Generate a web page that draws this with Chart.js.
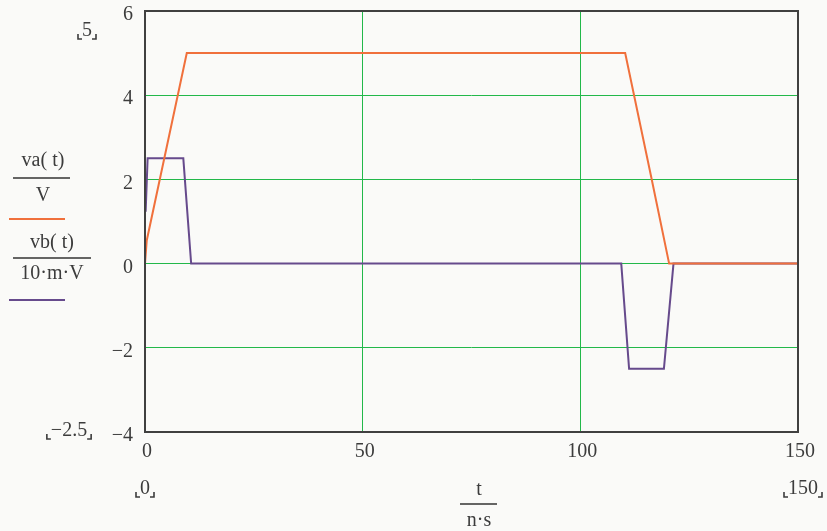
<!DOCTYPE html>
<html lang="en">
<head>
<meta charset="UTF-8">
<title>va(t), vb(t)</title>
<script src="https://cdn.jsdelivr.net/npm/chart.js"></script>
<style>
  html, body { margin: 0; padding: 0; background: #fafaf8; }
  #wrap { width: 827px; height: 531px; }
</style>
</head>
<body>
<div id="wrap"><canvas id="myChart" width="827" height="531"></canvas></div>
<script>
  // va(t)/V  (orange)
  const tA = [0, 0.4, 3.6, 9.6, 110.3, 116.2, 120.4, 150];
  const va = [0, 0.55, 2.1, 5, 5, 2.1, 0, 0];
  // vb(t)/(10 mV)  (purple)
  const tB = [0.15, 0.6, 8.8, 10.6, 109.4, 111.2, 119.2, 121.4, 150];
  const vb = [1.23, 2.5, 2.5, 0, 0, -2.5, -2.5, 0, 0];

  const xTicks = [0, 50, 100, 150];
  const yTicks = [-4, -2, 0, 2, 4, 6];

  const serif = '"Liberation Serif", "Times New Roman", serif';
  const textColor = "#3c3c3c";
  const orange = "#f0703c";
  const purple = "#664a8c";
  const green = "#22b84a";
  const fs = 20;

  function pts(xs, ys) {
    return xs.map((x, i) => ({ x: x, y: ys[i] }));
  }

  // brackets like ⌞ ⌟ round the limit labels
  function bracketLabel(ctx, text, cx, cy) {
    ctx.font = fs + "px " + serif;
    ctx.textAlign = "center";
    ctx.textBaseline = "middle";
    ctx.fillStyle = textColor;
    ctx.fillText(text, cx, cy);
    const w = ctx.measureText(text).width;
    const l = cx - w / 2 - 4, r = cx + w / 2 + 4, b = cy + 8;
    ctx.strokeStyle = textColor;
    ctx.lineWidth = 1.6;
    ctx.beginPath();
    ctx.moveTo(l, b - 5); ctx.lineTo(l, b); ctx.lineTo(l + 4, b);
    ctx.moveTo(r, b - 5); ctx.lineTo(r, b); ctx.lineTo(r - 4, b);
    ctx.stroke();
  }

  function fraction(ctx, top, bottom, cx, yTop, yBar, yBottom, x1, x2) {
    ctx.font = fs + "px " + serif;
    ctx.textAlign = "center";
    ctx.textBaseline = "middle";
    ctx.fillStyle = textColor;
    ctx.fillText(top, cx, yTop);
    ctx.fillText(bottom, cx, yBottom);
    ctx.strokeStyle = "#333";
    ctx.lineWidth = 1.5;
    ctx.beginPath();
    ctx.moveTo(x1, yBar); ctx.lineTo(x2, yBar);
    ctx.stroke();
  }

  const decor = {
    id: "decor",
    afterDraw(chart) {
      const ctx = chart.ctx;
      const a = chart.chartArea;
      ctx.save();
      // frame
      ctx.strokeStyle = "#404040";
      ctx.lineWidth = 2;
      ctx.strokeRect(a.left, a.top, a.right - a.left, a.bottom - a.top);

      // y axis titles
      fraction(ctx, "va( t)", "V", 43, 161, 178, 196, 13, 70);
      ctx.strokeStyle = orange; ctx.lineWidth = 2;
      ctx.beginPath(); ctx.moveTo(9, 219); ctx.lineTo(65, 219); ctx.stroke();
      fraction(ctx, "vb( t)", "10\u00b7m\u00b7V", 52, 243, 258, 274, 13, 91);
      ctx.strokeStyle = purple; ctx.lineWidth = 2;
      ctx.beginPath(); ctx.moveTo(9, 300); ctx.lineTo(65, 300); ctx.stroke();

      // x axis title
      fraction(ctx, "t", "n\u00b7s", 479, 490, 504, 521, 460, 497);

      // limit labels
      bracketLabel(ctx, "5", 87, 31);
      bracketLabel(ctx, "\u22122.5", 69, 431);
      bracketLabel(ctx, "0", 145, 489);
      bracketLabel(ctx, "150", 803, 489);
      ctx.restore();
    }
  };

  // no grid line on the frame edges
  const gridColor = (c) => {
    const v = c.tick ? c.tick.value : null;
    return (v === c.scale.min || v === c.scale.max) ? "rgba(0,0,0,0)" : green;
  };

  new Chart(document.getElementById("myChart"), {
    type: "line",
    data: {
      datasets: [
        { label: "va", data: pts(tA, va), borderColor: orange, borderWidth: 2, pointRadius: 0, tension: 0 },
        { label: "vb", data: pts(tB, vb), borderColor: purple, borderWidth: 2, pointRadius: 0, tension: 0 }
      ]
    },
    options: {
      responsive: false,
      animation: false,
      events: [],
      layout: { padding: { left: 0, right: 29, top: 11, bottom: 0 } },
      plugins: { legend: { display: false }, tooltip: { enabled: false } },
      scales: {
        x: {
          type: "linear",
          min: 0, max: 150,
          afterBuildTicks: (s) => { s.ticks = xTicks.map(v => ({ value: v })); },
          afterFit: (s) => { s.height = 99; s.paddingLeft = 0; s.paddingRight = 0; },
          border: { display: false },
          grid: { color: gridColor, lineWidth: 1, drawTicks: false },
          ticks: {
            padding: 8,
            labelOffset: 2,
            color: textColor,
            font: { family: serif, size: fs },
            maxRotation: 0
          }
        },
        y: {
          type: "linear",
          min: -4, max: 6,
          afterBuildTicks: (s) => { s.ticks = yTicks.map(v => ({ value: v })); },
          afterFit: (s) => { s.width = 145; s.paddingTop = 0; s.paddingBottom = 0; },
          border: { display: false },
          grid: { color: gridColor, lineWidth: 1, drawTicks: false },
          ticks: {
            padding: 12,
            labelOffset: 4,
            color: textColor,
            font: { family: serif, size: fs },
            callback: (v) => String(v).replace("-", "\u2212")
          }
        }
      }
    },
    plugins: [decor]
  });
</script>
</body>
</html>
